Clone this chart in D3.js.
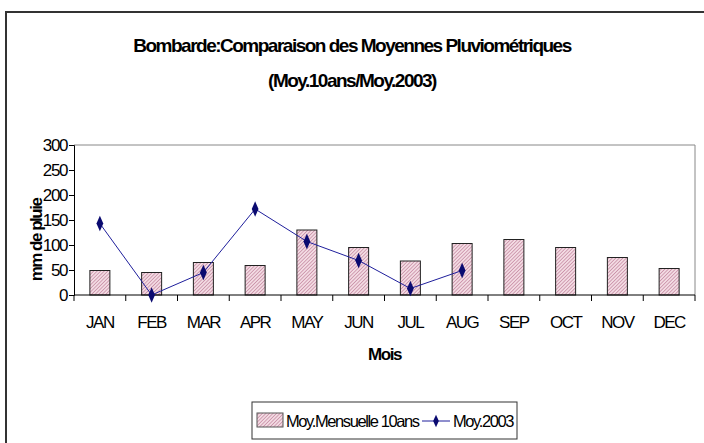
<!DOCTYPE html>
<html>
<head>
<meta charset="utf-8">
<script src="https://cdn.jsdelivr.net/npm/d3@7"></script>
<style>
  body { margin: 0; background: #fff; }
  svg text { font-family: "Liberation Sans", Arial, sans-serif; fill: #000; }
</style>
</head>
<body>
<svg width="704" height="443"></svg>
<script>
const months = ['JAN', 'FEB', 'MAR', 'APR', 'MAY', 'JUN', 'JUL', 'AUG', 'SEP', 'OCT', 'NOV', 'DEC'];
const moy10ans = [49, 45, 65, 59, 130, 95, 68, 103, 111, 95, 75, 53];
const moy2003 = [143, 0, 45, 172, 107, 69, 13, 49];
const yTicks = [0, 50, 100, 150, 200, 250, 300];

const svg = d3.select('svg');

const plot = {left: 74, right: 695, top: 145, bottom: 295};

// outer frame (runs off the right and bottom edge)
svg.append('path')
    .attr('d', 'M6,460 L6,12 L720,12')
    .attr('fill', 'none')
    .attr('stroke', '#333')
    .attr('stroke-width', 2);

// hatch pattern for bars
const defs = svg.append('defs');
const pat = defs.append('pattern')
    .attr('id', 'hatch')
    .attr('patternUnits', 'userSpaceOnUse')
    .attr('width', 2.5).attr('height', 2.5)
    .attr('patternTransform', 'rotate(45)');
pat.append('rect').attr('width', 2.5).attr('height', 2.5).attr('fill', '#f3dbe3');
pat.append('line')
    .attr('x1', 0).attr('y1', 0).attr('x2', 0).attr('y2', 2.5)
    .attr('stroke', '#c0809a').attr('stroke-width', 1.3);

const x = d3.scaleBand().domain(months).range([plot.left, plot.right]);
const y = d3.scaleLinear().domain([0, 300]).range([plot.bottom, plot.top]);

// plot area border (top & right)
svg.append('path')
    .attr('d', `M${plot.left},${plot.top} L${plot.right},${plot.top} L${plot.right},${plot.bottom}`)
    .attr('fill', 'none')
    .attr('stroke', '#888')
    .attr('stroke-width', 1);

// bars
const barW = 20;
svg.selectAll('.bar')
    .data(months.map((m, i) => ({month: m, value: moy10ans[i]})))
    .enter().append('rect')
    .attr('class', 'bar')
    .attr('x', d => x(d.month) + x.bandwidth() / 2 - barW / 2)
    .attr('y', d => y(d.value))
    .attr('width', barW)
    .attr('height', d => y(0) - y(d.value))
    .style('fill', 'url(#hatch)')
    .style('stroke', '#222')
    .style('stroke-width', 1);

// y axis
const yAxis = d3.axisLeft(y).tickValues(yTicks).tickSize(5).tickPadding(2);
const gy = svg.append('g')
    .attr('transform', `translate(${plot.left},0)`)
    .call(yAxis);
gy.select('.domain').attr('stroke', '#000');
gy.selectAll('text')
    .style('font-size', '17px')
    .style('letter-spacing', '-1.4px')
    .style('font-family', '"Liberation Sans", Arial, sans-serif');

// x axis: ticks on band boundaries, crossing below
const gx = svg.append('g').attr('transform', `translate(0,${plot.bottom})`);
gx.append('line')
    .attr('x1', plot.left).attr('x2', plot.right)
    .attr('stroke', '#000');
gx.selectAll('.xtick')
    .data(months.concat(['end']))
    .enter().append('line')
    .attr('class', 'xtick')
    .attr('x1', (d, i) => i < months.length ? x(d) : plot.right)
    .attr('x2', (d, i) => i < months.length ? x(d) : plot.right)
    .attr('y1', 0).attr('y2', 6)
    .attr('stroke', '#000');
gx.selectAll('.xlab')
    .data(months)
    .enter().append('text')
    .attr('class', 'xlab')
    .attr('x', d => x(d) + x.bandwidth() / 2)
    .attr('y', 33)
    .attr('text-anchor', 'middle')
    .style('font-size', '17px')
    .style('letter-spacing', '-1.5px')
    .text(d => d);

// line series
const pts = moy2003.map((v, i) => ({month: months[i], value: v}));
const line = d3.line()
    .x(d => x(d.month) + x.bandwidth() / 2)
    .y(d => y(d.value));
svg.append('path')
    .datum(pts)
    .attr('d', line)
    .attr('fill', 'none')
    .attr('stroke', '#1f1f9c')
    .attr('stroke-width', 1);
const diamond = d3.symbol().type(d3.symbolDiamond).size(44);
svg.selectAll('.pt')
    .data(pts)
    .enter().append('path')
    .attr('class', 'pt')
    .attr('d', diamond)
    .attr('transform', d => `translate(${x(d.month) + x.bandwidth() / 2},${y(d.value)}) scale(0.95,1.25)`)
    .attr('fill', '#0a0a70');

// titles
svg.append('text')
    .attr('x', 352).attr('y', 52)
    .attr('text-anchor', 'middle')
    .style('font-size', '19px').style('font-weight', 'bold')
    .style('letter-spacing', '-1.5px')
    .text('Bombarde:Comparaison des Moyennes Pluviométriques');
svg.append('text')
    .attr('x', 352).attr('y', 87)
    .attr('text-anchor', 'middle')
    .style('font-size', '19px').style('font-weight', 'bold')
    .style('letter-spacing', '-1.5px')
    .text('(Moy.10ans/Moy.2003)');

svg.append('text')
    .attr('x', (plot.left + plot.right) / 2).attr('y', 360)
    .attr('text-anchor', 'middle')
    .style('font-size', '17px').style('font-weight', 'bold')
    .style('letter-spacing', '-1.4px')
    .text('Mois');

svg.append('text')
    .attr('transform', 'translate(42,240) rotate(-90)')
    .attr('text-anchor', 'middle')
    .style('font-size', '17px').style('font-weight', 'bold')
    .style('letter-spacing', '-1.5px')
    .text('mm de pluie');

// legend
const lg = svg.append('g').attr('transform', 'translate(252,402)');
lg.append('rect')
    .attr('width', 265).attr('height', 37)
    .attr('fill', '#fff').attr('stroke', '#333').attr('stroke-width', 1);
lg.append('rect')
    .attr('x', 5).attr('y', 11).attr('width', 26).attr('height', 14)
    .style('fill', 'url(#hatch)').style('stroke', '#555');
lg.append('text')
    .attr('x', 34).attr('y', 25)
    .style('font-size', '16.5px').style('letter-spacing', '-1.4px')
    .text('Moy.Mensuelle 10ans');
lg.append('line')
    .attr('x1', 170).attr('x2', 198).attr('y1', 19).attr('y2', 19)
    .attr('stroke', '#1f1f9c');
lg.append('path')
    .attr('d', diamond)
    .attr('transform', 'translate(184,19) scale(0.8,1.0)')
    .attr('fill', '#0a0a70');
lg.append('text')
    .attr('x', 201).attr('y', 25)
    .style('font-size', '16.5px').style('letter-spacing', '-1.4px')
    .text('Moy.2003');
</script>
</body>
</html>
